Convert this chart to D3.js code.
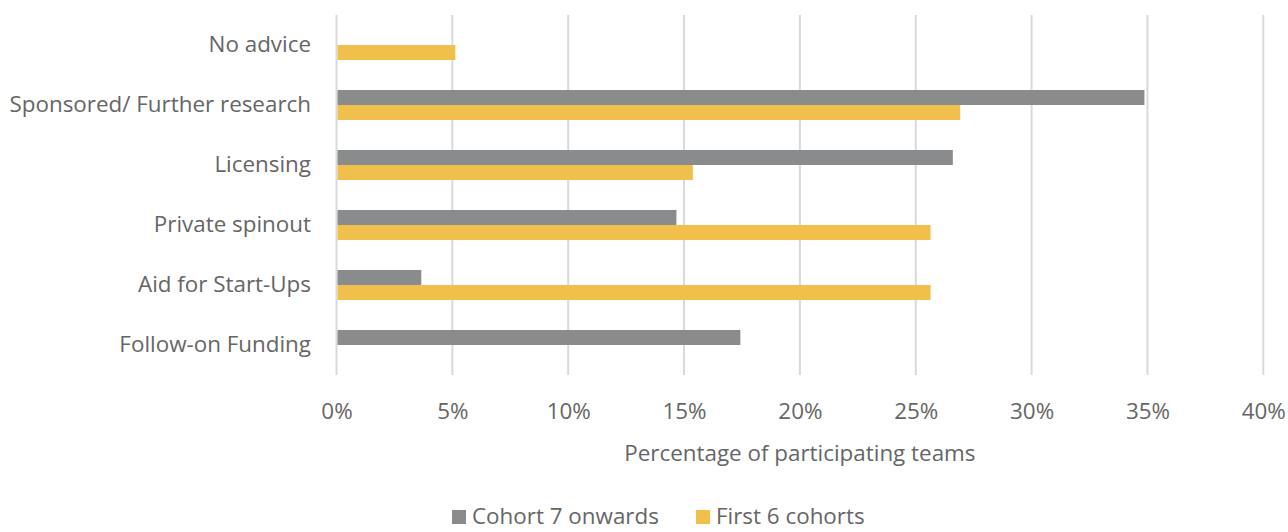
<!DOCTYPE html>
<html>
<head>
<meta charset="utf-8">
<script src="https://cdn.jsdelivr.net/npm/d3@7"></script>
<style>
  html, body { margin: 0; padding: 0; background: #fff; }
  svg text { font-family: "Open Sans", "Noto Sans", sans-serif; fill: #666; }
</style>
</head>
<body>
<svg id="chart" width="1288" height="532"></svg>
<script>
// Destinations advised to teams, as a share of participating teams
const categories = ["No advice", "Sponsored/ Further research", "Licensing",
                    "Private spinout", "Aid for Start-Ups", "Follow-on Funding"];
const seriesNames = ["Cohort 7 onwards", "First 6 cohorts"];
const cohort7Onwards = [0, 34.87, 26.6, 14.67, 3.66, 17.43];
const first6Cohorts  = [5.13, 26.92, 15.38, 25.64, 25.64, 0];
const xTicks = [0, 5, 10, 15, 20, 25, 30, 35, 40];
const colors = ["#898b8d", "#f1bf4b"];

const FONT = "'Open Sans', 'Noto Sans', sans-serif";
const FS = "22.4px";
const TEXT = "#666";

const svg = d3.select("#chart");
const plot = { left: 336.5, right: 1263.3, top: 15, bottom: 375 };

const x = d3.scaleLinear().domain([0, 40]).range([plot.left, plot.right]);
const y = d3.scaleBand().domain(categories).range([plot.top, plot.bottom]).paddingInner(0.5).paddingOuter(0.25);
const inner = d3.scaleBand().domain(seriesNames).range([0, y.bandwidth()]);

// vertical gridlines
svg.append("g").selectAll("line").data(xTicks).join("line")
  .attr("x1", d => x(d)).attr("x2", d => x(d))
  .attr("y1", plot.top).attr("y2", plot.bottom)
  .attr("stroke", "#d9d9d9").attr("stroke-width", 2);

// bars
const rows = categories.map((c, i) => ({ cat: c, values: [cohort7Onwards[i], first6Cohorts[i]] }));
const groups = svg.append("g").selectAll("g").data(rows).join("g")
  .attr("transform", d => `translate(0,${y(d.cat)})`);
groups.selectAll("rect")
  .data(d => d.values.map((v, j) => ({ name: seriesNames[j], v, j })).filter(e => e.v > 0))
  .join("rect")
  .attr("x", x(0) + 1)
  .attr("y", d => inner(d.name))
  .attr("width", d => x(d.v) - x(0) - 1)
  .attr("height", inner.bandwidth())
  .attr("fill", d => colors[d.j]);

// category labels
const yAxis = d3.axisLeft(y).tickSize(0).tickPadding(0);
svg.append("g").attr("transform", `translate(311,0)`).call(yAxis)
  .call(g => g.select(".domain").remove())
  .call(g => g.selectAll("text").style("font-size", FS).attr("fill", TEXT).style("font-family", FONT));

// x tick labels
const xAxis = d3.axisBottom(x).tickValues(xTicks).tickFormat(d => d + "%").tickSize(0).tickPadding(0);
svg.append("g").attr("transform", `translate(0,403)`).call(xAxis)
  .call(g => g.select(".domain").remove())
  .call(g => g.selectAll("text").style("font-size", FS).attr("fill", TEXT).style("font-family", FONT));

// axis title
svg.append("text")
  .attr("x", x(20)).attr("y", 461)
  .attr("text-anchor", "middle")
  .style("font-size", FS)
  .text("Percentage of participating teams");

// legend
const legend = svg.append("g");
const legendItems = [{ name: seriesNames[0], sx: 452, tx: 472 }, { name: seriesNames[1], sx: 696, tx: 716 }];
legendItems.forEach((it, i) => {
  legend.append("rect").attr("x", it.sx).attr("y", 510).attr("width", 14).attr("height", 14).attr("fill", colors[i]);
  legend.append("text").attr("x", it.tx).attr("y", 524).style("font-size", FS).text(it.name);
});
</script>
</body>
</html>
